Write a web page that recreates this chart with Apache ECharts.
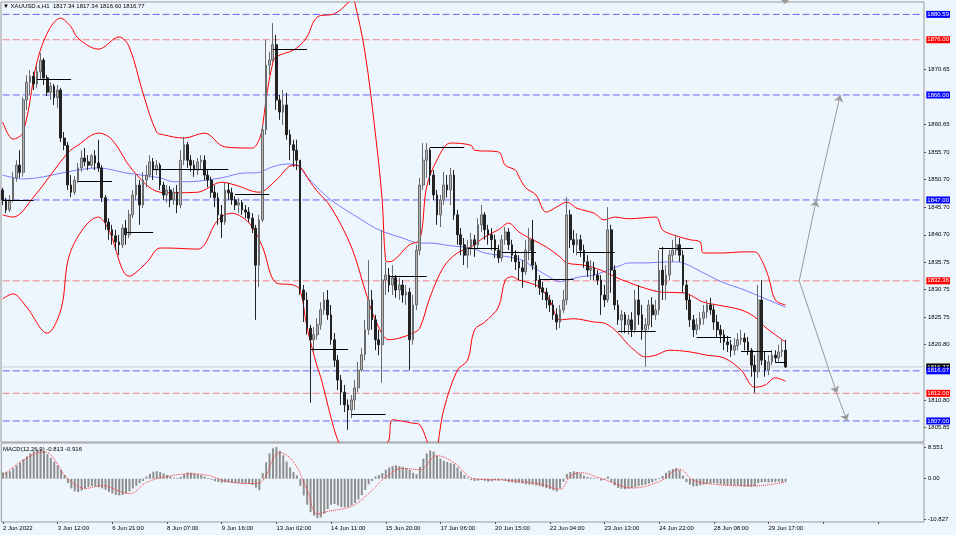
<!DOCTYPE html>
<html><head><meta charset="utf-8">
<script src="https://cdn.jsdelivr.net/npm/echarts@6/dist/echarts.min.js"></script>
<style>html,body{margin:0;padding:0;background:#eef6fd}#c{width:956px;height:535px}</style>
</head><body><div id="c"></div>
<script>
// ---------- data ----------
const tickLabels = ['2 Jun 2022','3 Jun 12:00','6 Jun 21:00','8 Jun 07:00','9 Jun 16:00','13 Jun 02:00','14 Jun 11:00','15 Jun 20:00','17 Jun 06:00','20 Jun 15:00','22 Jun 04:00','23 Jun 13:00','24 Jun 22:00','28 Jun 08:00','29 Jun 17:00'];
const barsPerTick = 16;
const slotCount = 270;

// [open, close, low, high]
const candles = [
[1848.8,1847.0,1846.1,1849.2],[1847.0,1845.2,1844.6,1847.4],[1845.2,1847.0,1844.8,1847.9],[1847.0,1851.0,1846.6,1852.1],
[1851.0,1853.3,1850.3,1854.2],[1853.3,1852.0,1851.0,1856.0],[1852.0,1865.1,1851.2,1865.6],[1865.1,1868.3,1863.3,1869.6],
[1868.3,1869.4,1866.0,1870.5],[1869.4,1868.0,1866.9,1870.2],[1868.0,1870.2,1867.3,1871.4],[1870.2,1872.3,1868.7,1873.6],
[1872.3,1869.1,1867.8,1872.7],[1869.1,1866.5,1865.8,1869.6],[1866.5,1867.6,1865.1,1868.3],[1867.6,1865.5,1864.2,1868.0],
[1865.5,1866.9,1863.6,1867.8],[1866.9,1858.2,1857.5,1867.3],[1858.2,1856.9,1856.0,1859.3],[1856.9,1849.7,1848.8,1857.5],
[1849.7,1848.4,1847.5,1851.5],[1848.4,1850.6,1847.9,1851.3],[1850.6,1852.8,1850.1,1853.7],[1852.8,1854.6,1852.1,1856.0],
[1854.6,1853.9,1853.1,1856.4],[1853.9,1853.3,1852.4,1855.1],[1853.3,1855.0,1852.8,1855.3],[1855.0,1853.7,1852.4,1856.0],
[1853.7,1852.8,1852.1,1857.9],[1852.8,1847.4,1846.6,1853.3],[1847.4,1843.0,1841.6,1847.9],[1843.0,1841.6,1839.8,1843.7],
[1841.6,1840.5,1838.9,1842.5],[1840.5,1839.4,1837.9,1841.6],[1839.4,1838.9,1837.0,1840.7],[1838.9,1841.9,1838.3,1842.6],
[1841.9,1840.7,1838.9,1843.4],[1840.7,1844.3,1840.1,1845.2],[1844.3,1847.9,1843.7,1848.8],[1847.9,1849.7,1847.0,1851.5],
[1849.7,1846.1,1842.5,1850.6],[1846.1,1850.6,1845.5,1852.1],[1850.6,1851.5,1849.3,1853.3],[1851.5,1853.9,1851.0,1855.1],
[1853.9,1852.4,1850.6,1854.6],[1852.4,1853.3,1851.5,1854.2],[1853.3,1849.7,1848.8,1853.7],[1849.7,1847.9,1847.0,1850.3],
[1847.9,1848.8,1846.5,1849.7],[1848.8,1847.0,1845.7,1849.5],[1847.0,1848.4,1846.1,1849.2],[1848.4,1846.1,1844.6,1849.7],
[1846.1,1854.2,1845.5,1856.0],[1854.2,1857.0,1853.3,1858.4],[1857.0,1854.2,1852.8,1857.5],[1854.2,1853.3,1852.1,1855.1],
[1853.3,1852.4,1851.2,1854.2],[1852.4,1853.9,1851.5,1854.6],[1853.9,1854.2,1852.4,1855.1],[1854.2,1851.5,1850.6,1855.1],
[1851.5,1850.6,1849.3,1852.4],[1850.6,1848.4,1847.4,1851.2],[1848.4,1847.4,1845.7,1849.7],[1847.4,1844.3,1842.5,1848.3],
[1844.3,1843.0,1840.1,1846.1],[1843.0,1848.8,1842.5,1850.1],[1848.8,1848.3,1847.0,1850.1],[1848.3,1847.0,1846.1,1849.2],
[1847.0,1846.1,1845.2,1847.7],[1846.1,1846.5,1844.6,1847.4],[1846.5,1845.2,1844.3,1847.0],[1845.2,1844.8,1843.7,1846.1],
[1844.8,1843.7,1843.0,1845.7],[1843.7,1841.9,1841.0,1844.6],[1841.9,1835.2,1825.3,1842.5],[1835.2,1843.4,1831.2,1844.3],
[1843.4,1859.7,1843.0,1860.6],[1859.7,1871.4,1858.8,1876.0],[1871.4,1872.3,1869.6,1873.8],[1872.3,1875.1,1872.0,1879.0],
[1875.1,1865.1,1863.3,1876.9],[1865.1,1862.9,1861.5,1866.0],[1862.9,1864.2,1860.6,1866.9],[1864.2,1858.8,1857.9,1866.4],
[1858.8,1857.0,1854.2,1859.7],[1857.0,1856.0,1853.0,1857.9],[1856.0,1854.2,1852.4,1857.9],[1854.2,1830.7,1829.8,1854.2],
[1830.7,1828.9,1824.9,1831.6],[1828.9,1823.8,1822.6,1830.3],[1823.8,1821.7,1810.3,1824.4],[1821.7,1822.6,1819.5,1824.0],
[1822.6,1824.4,1821.7,1825.6],[1824.4,1827.1,1823.5,1828.5],[1827.1,1828.9,1826.2,1830.3],[1828.9,1826.2,1825.3,1830.7],
[1826.2,1821.7,1820.8,1828.0],[1821.7,1818.0,1816.8,1822.9],[1818.0,1814.4,1812.6,1818.9],[1814.4,1812.2,1809.9,1815.3],
[1812.2,1809.9,1808.6,1813.5],[1809.9,1809.0,1805.4,1810.9],[1809.0,1810.8,1807.5,1811.7],[1810.8,1813.0,1809.0,1814.4],
[1813.0,1816.2,1812.2,1817.7],[1816.2,1819.0,1815.9,1820.2],[1819.0,1823.5,1818.0,1825.3],[1823.5,1828.9,1822.6,1836.1],
[1828.9,1825.3,1823.5,1830.7],[1825.3,1821.7,1819.8,1826.2],[1821.7,1820.8,1818.9,1823.5],[1820.8,1832.5,1813.9,1841.6],
[1832.5,1833.4,1829.8,1835.8],[1833.4,1831.6,1830.3,1834.7],[1831.6,1832.9,1829.8,1835.2],[1832.9,1830.7,1829.3,1833.4],
[1830.7,1831.6,1828.9,1832.9],[1831.6,1829.8,1828.4,1832.5],[1829.8,1830.3,1828.0,1831.6],[1830.3,1821.7,1816.2,1831.1],
[1821.7,1828.0,1820.8,1829.8],[1828.0,1837.9,1827.1,1838.9],[1837.9,1849.7,1837.0,1851.0],[1849.7,1854.2,1848.8,1857.3],
[1854.2,1856.0,1851.0,1857.3],[1856.0,1851.5,1849.7,1856.4],[1851.5,1847.9,1847.0,1852.4],[1847.9,1844.3,1842.5,1848.8],
[1844.3,1847.0,1842.1,1847.9],[1847.0,1849.7,1846.1,1852.1],[1849.7,1848.8,1847.4,1851.5],[1848.8,1851.5,1846.1,1852.8],
[1851.5,1844.3,1843.4,1852.4],[1844.3,1840.7,1838.9,1845.2],[1840.7,1838.9,1837.0,1841.9],[1838.9,1837.0,1835.2,1840.1],
[1837.0,1838.3,1834.7,1839.8],[1838.3,1839.8,1837.0,1841.0],[1839.8,1838.9,1836.7,1840.7],[1838.9,1842.5,1838.3,1843.7],
[1842.5,1844.3,1841.2,1846.1],[1844.3,1841.6,1839.8,1844.8],[1841.6,1840.7,1838.9,1842.5],[1840.7,1839.8,1837.9,1841.9],
[1839.8,1837.9,1836.5,1840.7],[1837.9,1836.5,1835.6,1838.9],[1836.5,1839.8,1835.8,1840.7],[1839.8,1841.2,1838.9,1842.1],
[1841.2,1838.9,1837.9,1841.9],[1838.9,1837.0,1835.8,1839.8],[1837.0,1835.8,1834.3,1837.9],[1835.8,1834.7,1832.5,1837.0],
[1834.7,1834.0,1831.1,1836.1],[1834.0,1837.9,1833.4,1839.8],[1837.9,1839.8,1836.1,1841.9],[1839.8,1835.2,1834.3,1843.4],
[1835.2,1832.5,1831.2,1835.8],[1832.5,1831.1,1829.8,1833.4],[1831.1,1830.3,1828.9,1832.2],[1830.3,1828.9,1827.4,1831.1],
[1828.9,1828.0,1826.7,1829.8],[1828.0,1826.2,1825.3,1828.9],[1826.2,1824.9,1823.5,1827.4],[1824.9,1827.1,1823.8,1828.0],
[1827.1,1828.9,1826.5,1830.7],[1828.9,1844.3,1828.0,1847.5],[1844.3,1839.8,1838.3,1845.2],[1839.8,1838.9,1837.4,1841.6],
[1838.9,1839.8,1837.0,1841.0],[1839.8,1837.9,1836.7,1840.7],[1837.9,1835.8,1834.7,1838.9],[1835.8,1834.3,1833.1,1837.0],
[1834.3,1834.7,1832.5,1836.1],[1834.7,1833.4,1832.5,1835.8],[1833.4,1832.5,1831.6,1834.3],[1832.5,1829.8,1826.2,1833.4],
[1829.8,1828.9,1827.6,1831.6],[1828.9,1841.6,1828.4,1845.7],[1841.6,1834.3,1830.2,1842.5],[1834.3,1828.0,1827.1,1835.2],
[1828.0,1825.3,1824.4,1828.9],[1825.3,1826.2,1822.9,1827.1],[1826.2,1824.4,1822.9,1826.7],[1824.4,1825.3,1822.6,1826.2],
[1825.3,1823.5,1822.2,1826.7],[1823.5,1828.9,1822.9,1830.7],[1828.9,1826.2,1824.4,1831.6],[1826.2,1823.5,1821.7,1828.0],
[1823.5,1824.4,1816.8,1825.6],[1824.4,1828.0,1823.5,1828.9],[1828.0,1826.2,1824.0,1829.4],[1826.2,1827.1,1825.3,1828.9],
[1827.1,1834.3,1826.2,1837.9],[1834.3,1831.6,1828.9,1838.5],[1831.6,1833.4,1828.9,1835.2],[1833.4,1837.0,1832.5,1837.9],
[1837.0,1837.9,1835.8,1839.8],[1837.9,1838.9,1837.0,1840.7],[1838.9,1837.0,1835.8,1840.1],[1837.0,1831.6,1830.2,1837.9],
[1831.6,1828.9,1827.1,1832.5],[1828.9,1825.3,1824.0,1829.8],[1825.3,1823.5,1822.2,1826.2],[1823.5,1824.4,1822.6,1825.6],
[1824.4,1825.6,1823.5,1826.7],[1825.6,1826.7,1824.4,1828.0],[1826.7,1828.0,1825.6,1828.9],[1828.0,1827.1,1826.2,1829.3],
[1827.1,1824.9,1823.5,1828.0],[1824.9,1823.5,1822.0,1826.2],[1823.5,1822.6,1821.1,1824.4],[1822.6,1821.3,1819.8,1823.5],
[1821.3,1820.8,1819.5,1822.4],[1820.8,1819.8,1818.6,1821.7],[1819.8,1820.6,1818.9,1822.0],[1820.6,1821.7,1819.8,1822.9],
[1821.7,1822.0,1820.8,1823.5],[1822.0,1821.3,1819.8,1822.9],[1821.3,1819.8,1818.9,1822.2],[1819.8,1817.1,1815.0,1820.2],
[1817.1,1815.9,1812.1,1818.9],[1815.9,1828.9,1814.8,1831.6],[1828.9,1818.0,1817.1,1832.5],[1818.0,1816.2,1815.0,1819.5],
[1816.2,1817.7,1815.3,1818.9],[1817.7,1818.9,1817.1,1819.8],[1818.9,1818.4,1817.5,1819.8],[1818.4,1819.5,1817.7,1820.8],
[1819.5,1819.8,1818.6,1821.7],[1819.8,1816.77,1816.6,1821.7]
];

// Bollinger bands and moving average, read as [barIndex, price]
const bbUpperKnots = [[0,1861.1],[3,1858.0],[6,1859.3],[11,1874.1],[17,1879.9],[20,1878.3],[22,1876.3],[28,1874.3],[34,1876.5],[37,1874.7],[41,1866.4],[45,1859.3],[47,1858.8],[53,1858.2],[59,1859.1],[65,1856.6],[73,1856.4],[75,1857.9],[76,1860.2],[77,1865.1],[79,1871.8],[80,1872.9],[85,1874.1],[87,1875.0],[89,1876.5],[92,1880.1],[97,1880.7],[101,1882.7],[102,1884.1],[103,1882.7],[106,1873.6],[109,1859.1],[111,1847.0],[112,1836.1],[113,1835.8],[119,1838.9],[122,1839.8],[124,1849.3],[127,1854.2],[131,1857.3],[137,1856.9],[138,1856.0],[145,1855.7],[147,1853.3],[150,1852.4],[151,1851.2],[153,1849.2],[156,1847.9],[159,1844.8],[162,1845.7],[165,1846.6],[168,1845.5],[173,1844.6],[176,1843.4],[179,1843.9],[183,1843.6],[191,1843.9],[193,1841.6],[196,1840.7],[201,1839.8],[204,1839.4],[205,1837.4],[211,1837.4],[216,1837.6],[220,1837.6],[222,1836.1],[224,1833.1],[226,1828.9],[229,1828.0]];
const bbMiddleKnots = [[0,1844.3],[3,1843.9],[9,1847.5],[19,1855.5],[22,1856.9],[28,1859.1],[32,1857.9],[38,1852.4],[46,1848.4],[50,1848.3],[57,1848.4],[64,1850.2],[68,1849.7],[75,1848.4],[80,1850.6],[85,1853.3],[87,1853.0],[90,1850.2],[92,1848.6],[96,1845.7],[102,1838.5],[106,1830.7],[109,1825.3],[113,1821.7],[116,1822.0],[120,1822.9],[122,1823.8],[125,1829.4],[129,1834.9],[133,1837.4],[137,1838.5],[141,1840.3],[145,1841.6],[148,1842.8],[151,1841.2],[155,1839.8],[159,1838.5],[163,1836.7],[165,1835.6],[170,1835.2],[175,1834.3],[179,1833.1],[183,1832.1],[187,1831.2],[193,1830.3],[199,1830.2],[205,1828.5],[209,1828.0],[216,1827.1],[220,1825.8],[223,1824.0],[226,1822.6],[229,1821.3]];
const bbLowerKnots = [[0,1829.1],[3,1830.0],[7,1827.6],[13,1822.9],[17,1827.1],[20,1837.9],[28,1843.9],[31,1841.6],[37,1833.2],[42,1835.6],[46,1838.3],[48,1838.3],[57,1838.1],[63,1843.4],[67,1844.6],[70,1843.9],[73,1842.1],[76,1838.5],[80,1832.0],[85,1831.6],[87,1830.7],[89,1824.0],[92,1816.8],[93,1815.0],[96,1807.7],[98,1803.6],[105,1794.5],[112,1802.6],[113,1803.6],[114,1807.2],[120,1806.6],[122,1806.3],[124,1803.6],[126,1800.0],[129,1809.0],[133,1816.2],[136,1818.0],[138,1823.5],[141,1824.9],[145,1827.6],[147,1832.5],[149,1833.1],[151,1832.5],[154,1832.0],[157,1831.2],[160,1828.9],[163,1825.3],[167,1825.5],[173,1824.9],[176,1824.7],[179,1823.5],[183,1820.8],[184,1820.2],[188,1818.6],[191,1818.9],[195,1819.8],[201,1819.5],[206,1818.9],[211,1818.4],[216,1816.2],[220,1813.1],[223,1813.5],[226,1814.8],[229,1814.2]];
const maKnots = [[0,1851.5],[6,1850.8],[12,1851.2],[19,1852.1],[28,1852.8],[36,1851.9],[46,1851.0],[50,1850.3],[54,1850.3],[64,1851.0],[71,1851.9],[74,1851.9],[79,1853.0],[83,1853.5],[86,1853.3],[89,1851.2],[92,1849.3],[96,1847.0],[105,1843.4],[110,1841.6],[117,1840.1],[122,1839.2],[125,1839.2],[131,1838.7],[137,1838.3],[141,1837.4],[145,1837.0],[152,1836.1],[155,1834.9],[159,1833.4],[163,1832.2],[165,1832.5],[169,1833.1],[173,1833.4],[177,1834.3],[181,1835.2],[183,1835.6],[187,1835.6],[196,1835.8],[199,1835.6],[205,1833.8],[211,1832.0],[217,1830.7],[222,1829.4],[229,1827.6]];

// daily open segments [startBar, endBar, price]
const openSegments = [[0,9,1847.0],[10,20,1868.9],[22,32,1850.4],[36,44,1841.2],[44,66,1852.6],[68,78,1848.1],[79,89,1874.3],[90,101,1820.0],[102,112,1808.3],[113,124,1833.2],[125,135,1856.6],[136,145,1838.3],[146,156,1837.6],[157,167,1832.7],[168,179,1837.6],[180,191,1823.3],[192,202,1838.3],[203,213,1822.2],[216,225,1819.7],[226,229,1817.7]];

// horizontal levels
const blueLevels = [1880.59,1866.00,1847.00,1816.07,1807.00];
const redLevels = [1876.00,1832.36,1812.00];
const bidPrice = 1816.77;
const priceTicks = [1870.65,1860.65,1855.70,1850.70,1845.70,1840.70,1835.75,1830.75,1825.75,1820.80,1810.80,1805.85];

// projection arrows [bar1, price1, bar2, price2]
const arrowPaths = [[233,1832.36,238,1847.0],[238,1847.0,245,1866.0],[233,1832.36,244,1812.0],[244,1812.0,247,1807.0]];

// MACD
const macdHist = [1.7,1.8,2.0,2.8,3.5,4.3,5.2,6.0,6.8,7.4,7.8,8.0,7.4,6.6,5.6,4.6,3.6,2.4,1.0,-1.2,-2.6,-3.4,-3.6,
-3.2,-2.6,-2.2,-2.0,-2.1,-2.3,-2.6,-3.0,-3.5,-4.0,-4.4,-4.5,-4.4,-4.0,-3.4,-2.6,-1.9,-1.2,-0.6,
0.6,1.3,1.9,2.0,1.8,1.4,1.0,0.6,0.3,0.2,0.5,1.2,1.7,1.6,1.4,1.2,1.0,0.6,0.2,-0.3,-0.7,
-0.9,-1.1,-1.0,-1.0,-1.1,-1.2,-1.2,-1.3,-1.4,-1.4,-1.7,-2.4,-3.1,1.5,4.4,6.8,8.2,8.5,7.5,6.3,4.6,3.0,1.8,0.9,
-1.9,-4.5,-7.0,-9.0,-9.9,-10.6,-10.4,-9.4,-8.2,-7.0,-6.8,-7.2,-7.6,-7.7,-7.6,-7.2,-6.5,-5.6,-4.4,-3.0,-1.5,
-0.6,0.6,1.0,1.5,2.4,3.0,3.4,3.6,3.4,3.1,2.8,2.4,1.6,1.2,3.2,5.4,6.8,7.6,7.3,6.2,5.4,4.8,4.5,4.2,3.9,3.0,2.0,1.0,0.3,
-0.4,-0.6,-0.5,-0.3,-0.6,-0.8,-0.7,-0.4,-0.5,-0.3,-0.6,-0.9,-1.0,-1.2,-1.1,-1.3,-1.5,-1.6,-1.6,-1.8,
-2.0,-2.2,-2.5,-2.8,-3.1,-3.4,-2.6,-0.8,1.3,1.8,2.0,1.8,1.4,0.8,0.5,0.3,0.2,0.1,-0.5,-0.3,0.6,
-0.9,-1.8,-2.5,-2.7,-2.8,-2.7,-2.5,-2.3,-2.0,-1.8,-1.6,-1.3,-1.0,-0.5,0.2,0.8,1.6,2.2,2.6,2.9,2.3,0.8,
-0.9,-1.6,-2.1,-2.0,-1.8,-1.6,-1.4,-1.3,-1.2,-1.3,-1.5,-1.6,-1.7,-1.8,-1.8,-1.9,-2.0,-2.1,-2.1,-2.2,-2.0,
-1.2,-0.9,-0.9,-1.0,-0.9,-0.9,-0.8,-0.9,-0.8];
const signalKnots = [[0,0.9],[12,7.2],[19,0.0],[24,-2.6],[29,-1.9],[37,-4.0],[42,-1.0],[48,0.6],[55,1.3],[60,0.9],[66,-0.8],[73,-1.3],[76,-0.5],[81,7.0],[85,4.5],[89,-3.0],[92,-9.5],[95,-8.8],[102,-7.4],[107,-4.0],[112,0.4],[117,2.8],[122,2.4],[127,6.2],[132,4.3],[138,0.0],[147,-0.4],[157,-1.4],[163,-2.8],[166,0.6],[169,1.6],[174,0.4],[180,-1.6],[184,-2.5],[192,-0.8],[198,2.5],[202,-0.4],[208,-1.5],[216,-1.9],[220,-1.9],[229,-0.9]];
const macdTicks = [8.551, 0, -10.827];

// ---------- chart ----------
const N = candles.length;
const cats = Array.from({length: slotCount}, (_, i) => String(i));
function fromKnots(knots) { const a = new Array(N).fill(null); for (const [i, v] of knots) a[i] = v; return a; }
const FONT = 'Liberation Sans';
const txt = {fontSize: 6, fontFamily: FONT, color: '#000'};
// one horizontal level = a two-point line series across the whole price panel, with its boxed value label at the end
const levelLine = (v, color, dash, bg, z) => ({type: 'line', xAxisIndex: 0, yAxisIndex: 0, z, silent: true,
  data: [[0, v], [slotCount - 1, v]], symbol: 'none', showSymbol: false,
  lineStyle: {color: color, type: dash, width: 1},
  endLabel: {show: true, formatter: () => v.toFixed(2), distance: 4, color: '#fff', backgroundColor: bg,
    fontSize: 6, fontFamily: FONT, padding: [1, 1, 0, 1]}});
const curve = (knots, color, width, z) => ({type: 'line', xAxisIndex: 0, yAxisIndex: 0, data: fromKnots(knots),
  connectNulls: true, smooth: 0.35, symbol: 'none', lineStyle: {color, width}, z, silent: true});

const chart = echarts.init(document.getElementById('c'), null, {renderer: 'canvas'});
chart.setOption({
  animation: false,
  backgroundColor: '#eef6fd',
  title: [
    {text: '▼ XAUUSD.s,H1  1817.34 1817.34 1816.60 1816.77', left: 3, top: 3, padding: 0,
     textStyle: {fontSize: 6, fontWeight: 'normal', fontFamily: FONT, color: '#000'}},
    {text: 'MACD(12,26,9) -0.813 -0.916', left: 3, top: 446, padding: 0, z: 10,
     textStyle: {fontSize: 6, fontWeight: 'normal', fontFamily: FONT, color: '#000'}}
  ],
  grid: [
    {left: 1, right: 32, top: 2, height: 440, show: true, borderColor: '#9a9a9a', borderWidth: 1},
    {left: 1, right: 32, top: 443, height: 79, show: true, borderColor: '#9a9a9a', borderWidth: 1}
  ],
  xAxis: [
    {type: 'category', gridIndex: 0, data: cats, boundaryGap: true,
     axisLabel: {show: false}, axisTick: {show: false}, axisLine: {show: false, onZero: false}},
    {type: 'category', gridIndex: 1, data: cats, boundaryGap: true, position: 'bottom',
     axisLine: {show: false, onZero: false},
     axisTick: {show: true, interval: barsPerTick - 1, length: 2, alignWithLabel: true, lineStyle: {color: '#555'}},
     axisLabel: Object.assign({interval: barsPerTick - 1, align: 'left', margin: 3,
       formatter: v => { const i = Number(v); const t = tickLabels[i / barsPerTick]; return (i % barsPerTick === 0 && t) ? t : ''; }}, txt)}
  ],
  yAxis: [
    {type: 'value', gridIndex: 0, position: 'right', min: 1803.19, max: 1882.83, splitLine: {show: false},
     axisLine: {show: false},
     axisTick: {show: true, length: 2, customValues: priceTicks, lineStyle: {color: '#555'}},
     axisLabel: Object.assign({customValues: priceTicks, margin: 4, formatter: v => v.toFixed(2)}, txt)},
    {type: 'value', gridIndex: 1, position: 'right', min: -11.64, max: 9.6, splitLine: {show: false},
     axisLine: {show: false},
     axisTick: {show: true, length: 2, customValues: macdTicks, lineStyle: {color: '#555'}},
     axisLabel: Object.assign({customValues: macdTicks, margin: 4, formatter: v => v === 0 ? '0.00' : String(v)}, txt)}
  ],
  graphic: [{type: 'polygon', shape: {points: [[781, 0], [789, 0], [785, 4]]}, style: {fill: '#9a9a9a'}}],
  series: [
    levelLine(bidPrice, '#c6cad0', 'solid', '#000000', 1),
    ...redLevels.map(v => levelLine(v, '#f0828c', [7, 3], '#ff0000', 1)),
    ...blueLevels.map(v => levelLine(v, '#6464f4', [7, 3], '#0000ff', 1)),
    curve(maKnots, '#7b7bff', 1, 2),
    curve(bbUpperKnots, '#ff0000', 1, 2),
    curve(bbMiddleKnots, '#ff0000', 1, 2),
    curve(bbLowerKnots, '#ff0000', 1, 2),
    {type: 'candlestick', xAxisIndex: 0, yAxisIndex: 0, data: candles, barWidth: 2.2, z: 3, silent: true,
     itemStyle: {color: '#b4b4b4', color0: '#222222', borderColor: '#6a6a6a', borderColor0: '#222222', borderWidth: 1}},
    {type: 'line', xAxisIndex: 0, yAxisIndex: 0, data: [], z: 4, silent: true,
     markLine: {silent: true, symbol: 'none', animation: false, label: {show: false},
       lineStyle: {color: '#000000', type: 'solid', width: 1},
       data: openSegments.map(([s, e, p]) => [{coord: [s, p]}, {coord: [e, p]}])}},
    {type: 'line', xAxisIndex: 0, yAxisIndex: 0, data: [], z: 4, silent: true,
     markLine: {silent: true, symbol: ['none', 'arrow'], symbolSize: 7, animation: false, label: {show: false},
       lineStyle: {color: '#9a9a9a', type: 'solid', width: 1},
       data: arrowPaths.map(([a, p, b, q]) => [{coord: [a, p]}, {coord: [b, q]}])}},
    {type: 'bar', xAxisIndex: 1, yAxisIndex: 1, data: macdHist, barWidth: 2, silent: true,
     itemStyle: {color: '#8e8e8e'}},
    {type: 'line', xAxisIndex: 1, yAxisIndex: 1, data: fromKnots(signalKnots), connectNulls: true, smooth: 0.4,
     symbol: 'none', silent: true, lineStyle: {color: '#ff3030', width: 1, type: 'dotted'}}
  ]
});
</script>
</body></html>
